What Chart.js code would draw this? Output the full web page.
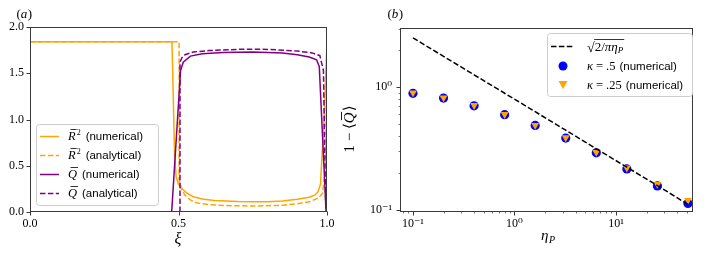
<!DOCTYPE html>
<html>
<head>
<meta charset="utf-8">
<script src="https://cdn.jsdelivr.net/npm/chart.js@4.4.1/dist/chart.umd.min.js"></script>
<style>
  html, body { margin: 0; padding: 0; background: #fff; }
  #wrap { position: relative; width: 706px; height: 256px; }
  #wrap canvas { position: absolute; left: 0; top: 0; }
</style>
</head>
<body>
<div id="wrap">
  <canvas id="chartA" width="706" height="256"></canvas>
  <canvas id="chartB" width="706" height="256"></canvas>
</div>
<script>
// ---- panel (a): profiles vs xi ----
const XI_R2_NUM = [0, 0.478, 0.487, 0.492, 0.50, 0.51, 0.53, 0.55, 0.58, 0.62, 0.70, 0.75, 0.80, 0.85, 0.90, 0.94, 0.96, 0.97, 0.978, 0.99, 1.0];
const R2_NUM    = [1.84, 1.84, 0.60, 0.38, 0.30, 0.256, 0.20, 0.165, 0.14, 0.125, 0.113, 0.11, 0.112, 0.12, 0.137, 0.16, 0.185, 0.22, 0.30, 1.0, 1.84];

const XI_R2_ANA = [0, 0.502, 0.502, 0.51, 0.522, 0.54, 0.56, 0.60, 0.65, 0.75, 0.85, 0.90, 0.94, 0.97, 0.985, 0.995, 1.0];
const R2_ANA    = [1.84, 1.84, 0.35, 0.25, 0.18, 0.13, 0.10, 0.08, 0.07, 0.065, 0.072, 0.09, 0.11, 0.15, 0.20, 0.50, 1.84];

const XI_Q_NUM = [0, 0.477, 0.507, 0.516, 0.54, 0.58, 0.65, 0.75, 0.85, 0.90, 0.94, 0.965, 0.974, 0.997, 1.0];
const Q_NUM    = [0, 0, 1.53, 1.62, 1.685, 1.71, 1.725, 1.73, 1.72, 1.70, 1.675, 1.645, 1.57, 0, 0];

const XI_Q_ANA = [0, 0.505, 0.505, 0.512, 0.522, 0.55, 0.60, 0.70, 0.75, 0.80, 0.90, 0.95, 0.976, 0.988, 0.996, 1.0];
const Q_ANA    = [0, 0, 1.62, 1.67, 1.70, 1.73, 1.745, 1.758, 1.76, 1.758, 1.74, 1.72, 1.69, 1.53, 0, 0];

const X_TICKS_A = [0, 0.5, 1];
const Y_TICKS_A = [0, 0.5, 1, 1.5, 2];

// ---- panel (b): 1 - <Q> vs eta_P ----
const ETA_P     = [0.1, 0.2, 0.4, 0.8, 1.6, 3.2, 6.4, 12.8, 25.6, 51.2];
const KAPPA_05  = [0.89, 0.815, 0.705, 0.597, 0.488, 0.385, 0.292, 0.216, 0.157, 0.113];
const KAPPA_025 = [0.90, 0.82, 0.71, 0.60, 0.49, 0.388, 0.295, 0.22, 0.162, 0.12];
const ASYMPTOTE = [2.52, 1.78, 1.26, 0.892, 0.631, 0.446, 0.315, 0.223, 0.158, 0.111];

const X_DECADES_B = [0.1, 1, 10];
const X_LABELS_B  = ['10⁻¹', '10⁰', '10¹'];
const Y_DECADES_B = [0.1, 1];
const Y_LABELS_B  = ['10⁻¹', '10⁰'];

// ---- styles ----
const ORANGE = '#ffa500';
const PURPLE = '#800080';
const BLUE = '#0000ff';
const SPINE = '#3a3a3a';
const SERIF = '"Liberation Serif", "DejaVu Serif", serif';
const SANS = '"Liberation Sans", "DejaVu Sans", sans-serif';
const DASH = [5.5, 2.4];
const LEG_FONT = '11.5px ' + SANS;

function pairs(xs, ys) {
  return xs.map((x, i) => ({ x: x, y: ys[i] }));
}

// tick positions (1..9 x 10^n) inside a log range
function logTicks(min, max) {
  const out = [];
  for (let e = Math.floor(Math.log10(min)); e <= Math.ceil(Math.log10(max)); e++) {
    for (let m = 1; m <= 9; m++) {
      const v = +(m * Math.pow(10, e)).toPrecision(6);
      if (v >= min && v <= max) out.push(v);
    }
  }
  return out;
}

// frame + outward tick marks, drawn like matplotlib spines
function frameTicks(isMajor) {
  return {
    id: 'frameTicks',
    afterDatasetsDraw(chart) {
      const { ctx, chartArea: a } = chart;
      const L = Math.round(a.left) + 0.5, R = Math.round(a.right) - 0.5;
      const T = Math.round(a.top) + 0.5, B = Math.round(a.bottom) - 0.5;
      ctx.save();
      ctx.strokeStyle = SPINE;
      ctx.lineWidth = 1;
      ctx.strokeRect(L, T, R - L, B - T);
      const xs = chart.scales.x, ys = chart.scales.y;
      xs.ticks.forEach(t => {
        const p = Math.round(xs.getPixelForValue(t.value)) + 0.5;
        const len = isMajor('x', t.value) ? 4 : 2;
        ctx.lineWidth = isMajor('x', t.value) ? 1 : 0.7;
        ctx.beginPath(); ctx.moveTo(p, B); ctx.lineTo(p, B + len); ctx.stroke();
      });
      ys.ticks.forEach(t => {
        const p = Math.round(ys.getPixelForValue(t.value)) + 0.5;
        const len = isMajor('y', t.value) ? 4 : 2;
        ctx.lineWidth = isMajor('y', t.value) ? 1 : 0.7;
        ctx.beginPath(); ctx.moveTo(L, p); ctx.lineTo(L - len, p); ctx.stroke();
      });
      ctx.restore();
    }
  };
}

function panelLabel(ctx, letter, cx, cy) {
  ctx.font = '13px ' + SERIF;
  const wp = ctx.measureText('(').width;
  ctx.font = 'italic 13px ' + SERIF;
  const wl = ctx.measureText(letter).width;
  let x = cx - (2 * wp + wl) / 2;
  ctx.textBaseline = 'middle';
  ctx.textAlign = 'left';
  ctx.font = '13px ' + SERIF;
  ctx.fillText('(', x, cy); x += wp;
  ctx.font = 'italic 13px ' + SERIF;
  ctx.fillText(letter, x, cy); x += wl + 0.5;
  ctx.font = '13px ' + SERIF;
  ctx.fillText(')', x, cy);
}

function legendBox(ctx, x, y, w, h) {
  ctx.save();
  ctx.fillStyle = 'rgba(255,255,255,0.8)';
  ctx.strokeStyle = '#cccccc';
  ctx.lineWidth = 1;
  ctx.beginPath();
  ctx.roundRect(x + 0.5, y + 0.5, w, h, 3);
  ctx.fill();
  ctx.stroke();
  ctx.restore();
}

// italic letter with a bar on top, optional superscript; returns end x
function barLetter(ctx, ch, x, base, sup) {
  ctx.font = 'italic 12.5px ' + SERIF;
  ctx.textBaseline = 'alphabetic';
  ctx.textAlign = 'left';
  ctx.fillText(ch, x, base);
  const w = ctx.measureText(ch).width;
  ctx.save();
  ctx.strokeStyle = '#000';
  ctx.lineWidth = 0.8;
  ctx.beginPath();
  ctx.moveTo(x + 2.5, base - 10.5);
  ctx.lineTo(x + w + 1, base - 10.5);
  ctx.stroke();
  ctx.restore();
  let end = x + w;
  if (sup) {
    ctx.font = '8px ' + SERIF;
    ctx.fillText(sup, end + 1, base - 5);
    end += 1 + ctx.measureText(sup).width;
  }
  return end;
}

// ---- legend / labels for panel (a) ----
const ENTRIES_A = [
  { color: ORANGE, dash: [], sym: 'R', sup: '2', text: '(numerical)' },
  { color: ORANGE, dash: DASH, sym: 'R', sup: '2', text: '(analytical)' },
  { color: PURPLE, dash: [], sym: 'Q', sup: '', text: '(numerical)' },
  { color: PURPLE, dash: DASH, sym: 'Q', sup: '', text: '(analytical)' },
];

const decorA = {
  id: 'decorA',
  afterDraw(chart) {
    const ctx = chart.ctx;
    ctx.save();
    ctx.fillStyle = '#000';
    panelLabel(ctx, 'a', 24, 15);

    ctx.font = 'italic 16px ' + SERIF;
    ctx.textAlign = 'center';
    ctx.textBaseline = 'middle';
    ctx.fillText('ξ', 178, 240);

    legendBox(ctx, 36, 124, 122, 81);
    ENTRIES_A.forEach((e, i) => {
      const y = 136 + i * 19;
      ctx.save();
      ctx.strokeStyle = e.color;
      ctx.lineWidth = 1.5;
      ctx.setLineDash(e.dash);
      ctx.beginPath(); ctx.moveTo(40, y + 0.5); ctx.lineTo(59, y + 0.5); ctx.stroke();
      ctx.restore();
      ctx.fillStyle = '#000';
      const end = barLetter(ctx, e.sym, 68, y + 4, e.sup);
      ctx.font = LEG_FONT;
      ctx.textBaseline = 'alphabetic';
      ctx.fillText(e.text, end + 5, y + 4);
    });
    ctx.restore();
  }
};

// ---- legend / labels for panel (b) ----
const decorB = {
  id: 'decorB',
  afterDraw(chart) {
    const ctx = chart.ctx;
    ctx.save();
    ctx.fillStyle = '#000';
    panelLabel(ctx, 'b', 395, 15);

    // x title: eta_P
    ctx.textAlign = 'left';
    ctx.textBaseline = 'alphabetic';
    ctx.font = 'italic 15px ' + SERIF;
    ctx.fillText('η', 541, 240);
    let w = ctx.measureText('η').width;
    ctx.font = 'italic 10px ' + SERIF;
    ctx.fillText('P', 541 + w + 0.5, 243);

    // y title: 1 - <Q>
    ctx.save();
    ctx.translate(354, 129);
    ctx.rotate(-Math.PI / 2);
    ctx.font = '15px ' + SERIF;
    const pre = '1 − ⟨';
    const wPre = ctx.measureText(pre).width;
    ctx.font = 'italic 15px ' + SERIF;
    const wQ = ctx.measureText('Q').width;
    ctx.font = '15px ' + SERIF;
    const wPost = ctx.measureText('⟩').width;
    let x0 = -(wPre + wQ + wPost + 1) / 2;
    ctx.fillText(pre, x0, 0);
    ctx.font = 'italic 15px ' + SERIF;
    ctx.fillText('Q', x0 + wPre, 0);
    ctx.strokeStyle = '#000';
    ctx.lineWidth = 0.9;
    ctx.beginPath();
    ctx.moveTo(x0 + wPre + 3, -12.5);
    ctx.lineTo(x0 + wPre + wQ + 0.5, -12.5);
    ctx.stroke();
    ctx.font = '15px ' + SERIF;
    ctx.fillText('⟩', x0 + wPre + wQ + 1, 0);
    ctx.restore();

    // legend
    legendBox(ctx, 547, 33, 145, 63);
    ctx.save();
    ctx.strokeStyle = '#000';
    ctx.lineWidth = 1.5;
    ctx.setLineDash(DASH);
    ctx.beginPath(); ctx.moveTo(551, 46.5); ctx.lineTo(574, 46.5); ctx.stroke();
    ctx.restore();

    ctx.fillStyle = BLUE;
    ctx.beginPath(); ctx.arc(563, 66, 4.5, 0, Math.PI * 2); ctx.fill();
    ctx.fillStyle = ORANGE;
    ctx.beginPath(); ctx.moveTo(558.5, 81); ctx.lineTo(567.5, 81); ctx.lineTo(563, 89); ctx.closePath(); ctx.fill();

    ctx.fillStyle = '#000';
    // sqrt(2 / pi eta_P)
    let x = 587;
    ctx.font = '14px ' + SERIF;
    ctx.fillText('√', x, 52);
    x += ctx.measureText('√').width;
    const xBar = x;
    ctx.font = '13px ' + SERIF;
    ctx.fillText('2/', x, 51);
    x += ctx.measureText('2/').width;
    ctx.font = 'italic 13px ' + SERIF;
    ctx.fillText('πη', x, 51);
    x += ctx.measureText('πη').width;
    ctx.font = 'italic 9px ' + SERIF;
    ctx.fillText('P', x, 53);
    x += ctx.measureText('P').width + 1;
    ctx.strokeStyle = '#000';
    ctx.lineWidth = 0.8;
    ctx.beginPath(); ctx.moveTo(xBar - 0.5, 39.5); ctx.lineTo(x, 39.5); ctx.stroke();

    [['.5', 70], ['.25', 89]].forEach(([k, yb]) => {
      let xx = 587;
      ctx.font = 'italic 12.5px ' + SERIF;
      ctx.fillText('κ', xx, yb);
      xx += ctx.measureText('κ').width + 3;
      ctx.font = '12.5px ' + SERIF;
      ctx.fillText('=', xx, yb);
      xx += ctx.measureText('=').width + 3;
      ctx.fillText(k, xx, yb);
      xx += ctx.measureText(k).width + 4;
      ctx.font = LEG_FONT;
      ctx.fillText('(numerical)', xx, yb);
    });
    ctx.restore();
  }
};

// ---- chart (a) ----
function lineSet(label, xs, ys, color, dash, order) {
  return {
    label: label,
    data: pairs(xs, ys),
    borderColor: color,
    borderWidth: 1.5,
    borderDash: dash,
    pointRadius: 0,
    tension: 0,
    fill: false,
    order: order,
  };
}

const noGrid = { display: false, drawTicks: false };

new Chart(document.getElementById('chartA'), {
  type: 'line',
  data: {
    datasets: [
      lineSet('R2 numerical', XI_R2_NUM, R2_NUM, ORANGE, [], 3),
      lineSet('R2 analytical', XI_R2_ANA, R2_ANA, ORANGE, DASH, 2),
      lineSet('Q numerical', XI_Q_NUM, Q_NUM, PURPLE, [], 1),
      lineSet('Q analytical', XI_Q_ANA, Q_ANA, PURPLE, DASH, 0),
    ]
  },
  options: {
    responsive: false,
    animation: false,
    devicePixelRatio: 1,
    layout: { padding: { left: 0, top: 27, right: 379, bottom: 0 } },
    plugins: { legend: { display: false }, tooltip: { enabled: false } },
    scales: {
      x: {
        type: 'linear', min: 0, max: 1,
        afterBuildTicks: s => { s.ticks = X_TICKS_A.map(v => ({ value: v })); },
        afterFit: s => { s.height = 44; },
        grid: noGrid,
        border: { display: false },
        ticks: { padding: 5, color: '#000', font: { family: SERIF, size: 12 }, callback: v => v.toFixed(1) }
      },
      y: {
        type: 'linear', min: 0, max: 2,
        afterBuildTicks: s => { s.ticks = Y_TICKS_A.map(v => ({ value: v })); },
        afterFit: s => { s.width = 30; },
        grid: noGrid,
        border: { display: false },
        ticks: { padding: 6, color: '#000', font: { family: SERIF, size: 12 }, callback: v => v.toFixed(1) }
      }
    }
  },
  plugins: [frameTicks(() => true), decorA]
});

// ---- chart (b) ----
const XMIN_B = 0.0745, XMAX_B = 57.4;
const YMIN_B = 0.0963, YMAX_B = 3.03;

new Chart(document.getElementById('chartB'), {
  type: 'scatter',
  data: {
    datasets: [
      {
        label: 'sqrt(2/pi eta_P)',
        data: pairs(ETA_P, ASYMPTOTE),
        showLine: true,
        borderColor: '#000',
        borderWidth: 1.5,
        borderDash: DASH,
        pointRadius: 0,
        order: 0,
      },
      {
        label: 'kappa = .5 (numerical)',
        data: pairs(ETA_P, KAPPA_05),
        pointStyle: 'circle',
        pointRadius: 4.6,
        backgroundColor: BLUE,
        borderColor: BLUE,
        borderWidth: 0,
        order: 2,
      },
      {
        label: 'kappa = .25 (numerical)',
        data: pairs(ETA_P, KAPPA_025),
        pointStyle: 'triangle',
        rotation: 180,
        pointRadius: 4.6,
        backgroundColor: ORANGE,
        borderColor: ORANGE,
        borderWidth: 0,
        order: 1,
      },
    ]
  },
  options: {
    responsive: false,
    animation: false,
    devicePixelRatio: 1,
    layout: { padding: { left: 335, top: 28, right: 13, bottom: 0 } },
    plugins: { legend: { display: false }, tooltip: { enabled: false } },
    scales: {
      x: {
        type: 'logarithmic', min: XMIN_B, max: XMAX_B,
        afterBuildTicks: s => { s.ticks = logTicks(XMIN_B, XMAX_B).map(v => ({ value: v })); },
        afterFit: s => { s.height = 44; },
        grid: noGrid,
        border: { display: false },
        ticks: {
          autoSkip: false, maxRotation: 0, padding: 5, color: '#000',
          font: { family: SERIF, size: 12 },
          callback: v => { const i = X_DECADES_B.indexOf(+v); return i >= 0 ? X_LABELS_B[i] : ''; }
        }
      },
      y: {
        type: 'logarithmic', min: YMIN_B, max: YMAX_B,
        afterBuildTicks: s => { s.ticks = logTicks(YMIN_B, YMAX_B).map(v => ({ value: v })); },
        afterFit: s => { s.width = 65; },
        grid: noGrid,
        border: { display: false },
        ticks: {
          autoSkip: false, padding: 8, color: '#000',
          font: { family: SERIF, size: 12 },
          callback: v => { const i = Y_DECADES_B.indexOf(+v); return i >= 0 ? Y_LABELS_B[i] : ''; }
        }
      }
    }
  },
  plugins: [frameTicks((axis, v) => (axis === 'x' ? X_DECADES_B : Y_DECADES_B).includes(+v)), decorB]
});
</script>
</body>
</html>
